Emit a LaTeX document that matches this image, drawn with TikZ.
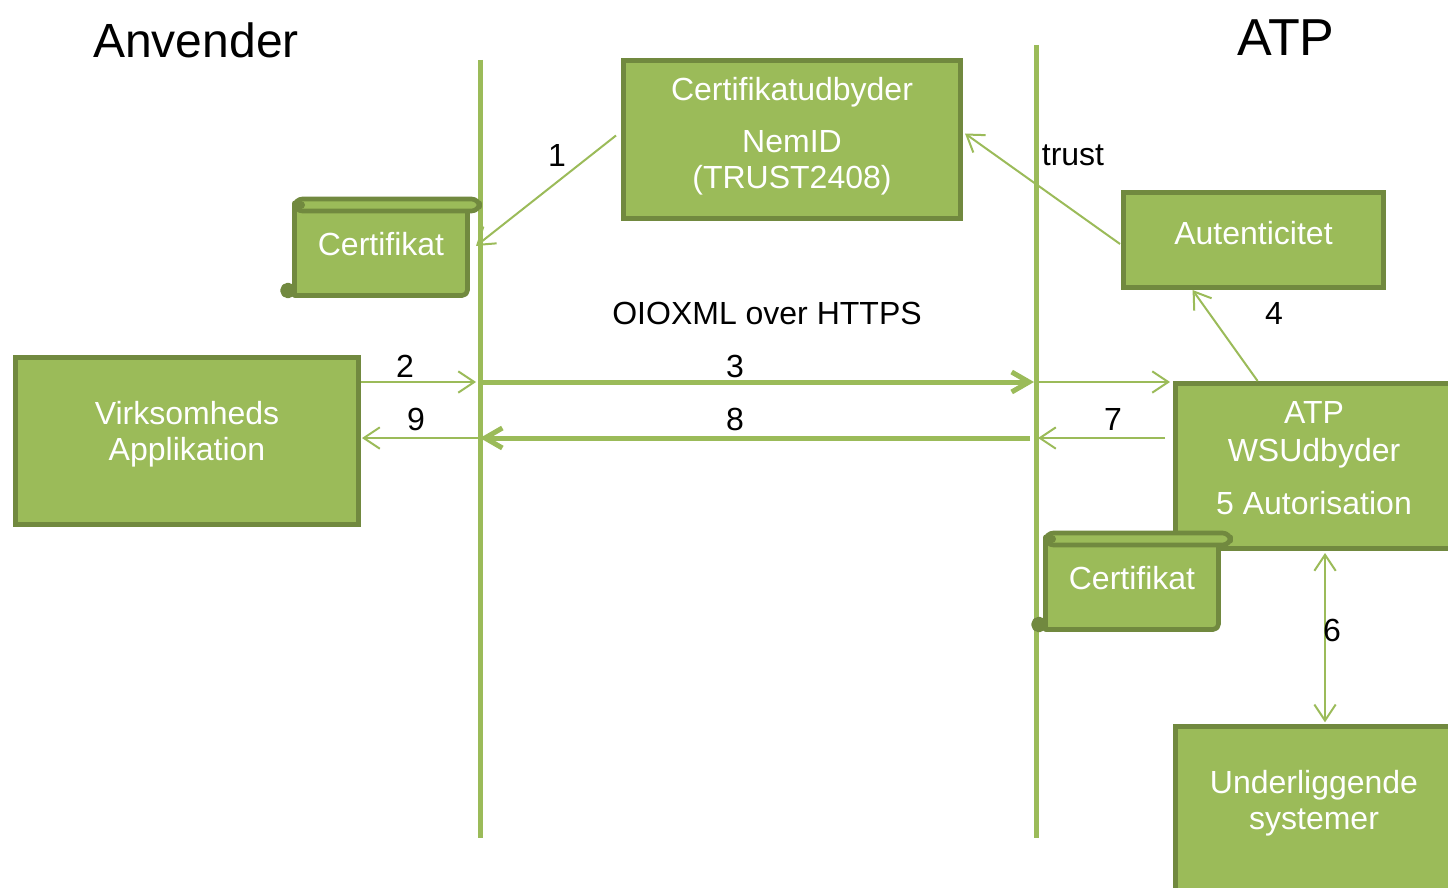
\documentclass[tikz,border=0pt]{standalone}
\usepackage{fontspec}
\setmainfont{Liberation Sans}
\usetikzlibrary{arrows.meta,calc}
\definecolor{atpgreen}{RGB}{155,187,89}
\definecolor{atpdark}{RGB}{113,137,63}
\begin{document}
\begin{tikzpicture}[x=0.75pt,y=0.75pt,yscale=-1,
  box/.style={draw=atpdark,line width=3.5pt,fill=atpgreen,inner sep=0pt},
  boxtext/.style={text=white,align=center,inner sep=0pt,font=\fontsize{24}{27}\selectfont},
  lbl/.style={text=black,inner sep=0pt,font=\fontsize{24}{27}\selectfont},
  title/.style={text=black,inner sep=0pt,font=\fontsize{36}{40}\selectfont},
  lifeline/.style={draw=atpgreen,line width=3.75pt},
  msg/.style={draw=atpgreen,line width=1.5pt,-{Straight Barb[length=12pt,width=16pt]}},
  bigmsg/.style={draw=atpgreen,line width=3.75pt,-{Straight Barb[length=13pt,width=15pt]}},
  scroll/.style={draw=atpdark,line width=3.5pt,fill=atpgreen,line join=round}
]
\clip (0,0) rectangle (1448,888);
\useasboundingbox (0,0) rectangle (1448,888);

%titles
\node[title] (anvender) at (196,40) {Anvender};
\node[title,font=\fontsize{39}{42}\selectfont] (atp) at (1286,38) {ATP};

%lifelines
\draw[lifeline] (480,60) -- (480,838);
\draw[lifeline] (1036,45) -- (1036,838);

%boxes
\node[box,minimum width=253pt,minimum height=118.7pt] (certudb) at (792,139.5) {};
\node[boxtext] (certudbtxt) at (792,136) {Certifikatudbyder\\[12pt]NemID\\(TRUST2408)};
\node[box,minimum width=257.5pt,minimum height=125.5pt] (virk) at (187,441) {};
\node[boxtext] (virktxt) at (187,434) {Virksomheds\\Applikation};
\node[box,minimum width=195.2pt,minimum height=71.5pt] (autent) at (1253.5,240) {};
\node[boxtext] (autenttxt) at (1253.5,233) {Autenticitet};
\node[box,minimum width=208pt,minimum height=124pt] (wsu) at (1314,466) {};
\node[boxtext] (wsutxt) at (1314,458) {ATP\\[1.5pt]WSUdbyder\\[13pt]5 Autorisation};
\node[box,minimum width=208pt,minimum height=128pt] (under) at (1314,812) {};
\node[boxtext] (undertxt) at (1314,803) {Underliggende\\systemer};

%scrolls
\foreach \dx/\dy/\nm in {0/0/certA, 751/334/certB}
{
\begin{scope}[shift={(\dx,\dy)}]
\draw[scroll,fill=atpdark] (288,290.5) circle (5.5);
\draw[scroll] (294.5,207) -- (294.5,295.5) -- (462,295.5) [rounded corners=4] -- (467.5,295.5) -- (467.5,207);
\draw[scroll,rounded corners=6] (294.5,199) rectangle (479.5,211);
\fill[atpdark] (301,205) circle (4);
\node[boxtext] (\nm) at (381,244) {Certifikat};
\end{scope}
}

%lifeline points
\coordinate (nA) at (476,246);
\coordinate (l2) at (476,382);
\coordinate (l3) at (482,382);
\coordinate (r3) at (1034,382);
\coordinate (r4) at (1038,382);
\coordinate (r7) at (1038,438);
\coordinate (r8) at (1030,438);
\coordinate (l8) at (480,438);
\coordinate (l9) at (478,438);
\coordinate (x6) at (1325,0);

%messages
\draw[msg] ($(certudb.west)+(-5,-4)$) -- (nA);
\draw[msg] ($(autent.west)+(-1,4)$) -- ($(certudb.east)+(2,-6)$);
\draw[msg] (virk.east |- l2) -- (l2);
\draw[bigmsg] (l3) -- (r3);
\draw[msg] (r4) -- ($(r4 -| wsu.west)+(-3,0)$);
\draw[msg] ($(r7 -| wsu.west)+(-8,0)$) -- (r7);
\draw[bigmsg] (r8) -- (l8);
\draw[msg] (l9) -- ($(l9 -| virk.east)+(1,0)$);
\draw[msg] ($(wsu.north west)!0.3!(wsu.north east)$) -- ($(autent.south west)!0.27!(autent.south east)$);
\draw[msg,{Straight Barb[length=12pt,width=16pt]}-{Straight Barb[length=12pt,width=16pt]}] ($(wsu.south -| x6)+(0,2)$) -- ($(under.north -| x6)+(0,-2)$);

%labels
\node[lbl] (n1) at (557,155) {1};
\node[lbl] (ntrust) at (1073,155) {trust};
\node[lbl] (proto) at (767,313) {OIOXML over HTTPS};
\node[lbl] (n4) at (1274,313) {4};
\node[lbl] (n2) at (405,366) {2};
\node[lbl] (n3) at (735,366) {3};
\node[lbl] (n9) at (416,419) {9};
\node[lbl] (n8) at (735,419) {8};
\node[lbl] (n7) at (1113,419) {7};
\node[lbl] (n6) at (1332,630) {6};

\end{tikzpicture}
\end{document}
